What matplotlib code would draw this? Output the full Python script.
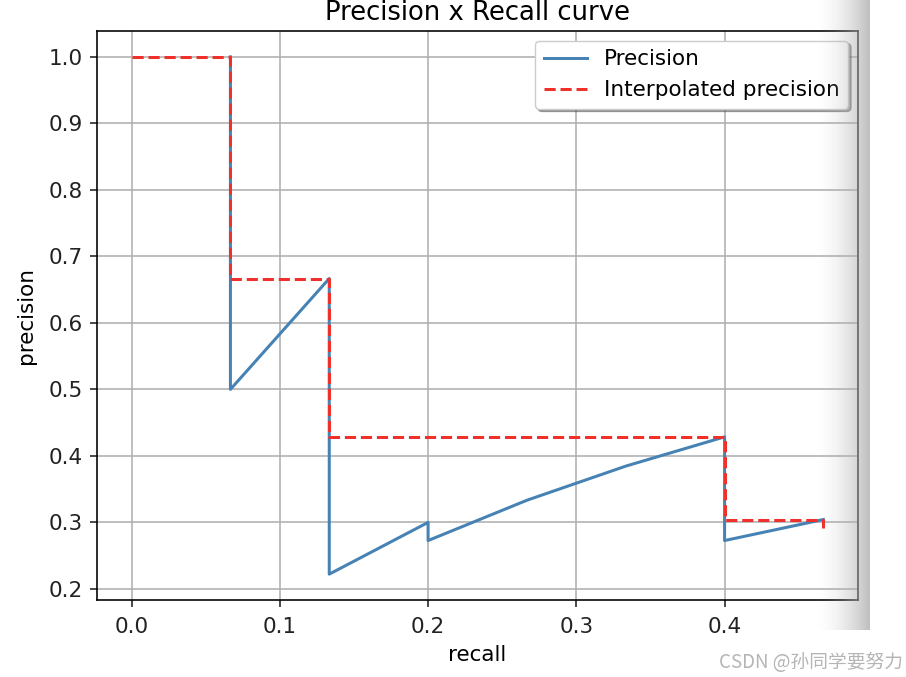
import numpy as np
import matplotlib
matplotlib.use('Agg')
import matplotlib.pyplot as plt

# raw precision / recall points (15 ground truths)
rec = [1/15, 1/15, 2/15, 2/15, 3/15, 3/15, 4/15, 5/15, 6/15, 6/15, 7/15]
prec = [1.0, 0.5, 0.6667, 0.2222, 0.3, 0.2727, 0.3333, 0.3846, 0.4286, 0.2727, 0.3043]

# interpolated (every point) curve
mrec = [0.0, 1/15, 1/15, 2/15, 2/15, 6/15, 6/15, 7/15, 7/15]
mpre = [1.0, 1.0, 0.6667, 0.6667, 0.4286, 0.4286, 0.3043, 0.3043, 0.2917]

s = 1.45   # line scale of the screenshot
f = 1.55   # font scale
plt.rcParams['font.family'] = ['DejaVu Sans']
plt.rcParams['font.size'] = 10 * f

fig = plt.figure(figsize=(9.06, 6.77), dpi=100)
W, H = 906, 677
ax = fig.add_axes([97 / W, 1 - 600 / H, 761 / W, 569 / H])

ax.plot(rec, prec, color='#4682b4', lw=1.5 * s, label='Precision')
ax.plot(mrec, mpre, '--', color='#f0302a', lw=1.5 * s, label='Interpolated precision',
        dashes=(3.7, 1.6))

ax.set_xlabel('recall', fontsize=10 * f, labelpad=6)
ax.set_ylabel('precision', fontsize=10 * f, labelpad=9)
ax.set_title('Precision x Recall curve', fontsize=12 * f, pad=8)
ax.set_xticks([0.0, 0.1, 0.2, 0.3, 0.4])
ax.set_yticks([0.2, 0.3, 0.4, 0.5, 0.6, 0.7, 0.8, 0.9, 1.0])
ax.tick_params(length=3.5 * s, width=0.8 * s, labelsize=10 * f, colors='#222222')
ax.tick_params(axis='x', pad=7)
ax.tick_params(axis='y', pad=5)
for sp in ax.spines.values():
    sp.set_linewidth(0.8 * s)
ax.grid(True, color='#b0b0b0', lw=0.8 * s)
ax.set_axisbelow(True)
leg = ax.legend(loc='upper right', shadow=True, fontsize=10 * f, handlelength=2.0,
                borderaxespad=0.45)

# screenshot shadow strip on the right
strip = fig.add_axes([815 / W, 1 - 630 / H, 55 / W, 630 / H], zorder=10)
g = np.linspace(0, 1, 200) ** 1.8
rgba = np.zeros((2, 200, 4))
rgba[..., :3] = 0.7
rgba[..., 3] = g * 0.85
strip.imshow(rgba, aspect='auto', extent=[0, 1, 0, 1])
strip.set_axis_off()

fig.text(903 / W, 1 - 662 / H, 'CSDN @孙同学要努力', ha='right', va='center',
         fontsize=13.5, color='#b5b5b5', family=['Noto Sans CJK SC', 'DejaVu Sans'])

fig.savefig('out.png', dpi=100)
